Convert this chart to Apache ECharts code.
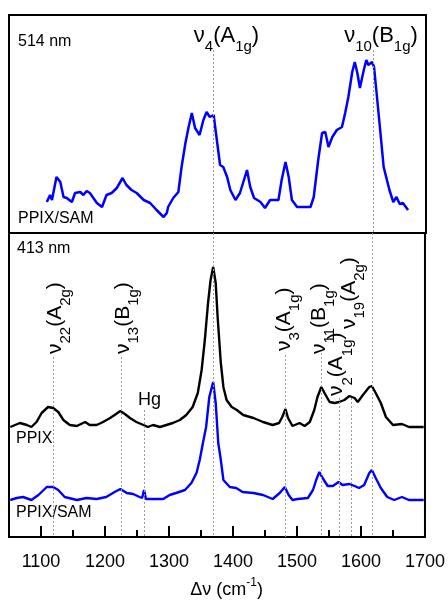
<!DOCTYPE html>
<html>
<head>
<meta charset="utf-8">
<script src="https://cdn.jsdelivr.net/npm/echarts@6/dist/echarts.min.js"></script>
<style>
html, body { margin: 0; padding: 0; background: #fff; }
#chart { width: 448px; height: 601px; }
</style>
</head>
<body>
<div id="chart"></div>
<script>
// 514 nm excitation, PPIX/SAM (top panel)
const shift514 = [1109, 1114, 1117, 1124, 1130, 1135, 1140, 1148, 1153, 1161, 1166, 1171, 1176, 1187, 1195, 1202, 1210, 1218, 1227, 1233,
    1241, 1249, 1260, 1270, 1280, 1291, 1296, 1298, 1306, 1314, 1319, 1325, 1330, 1335, 1340, 1347, 1353, 1358, 1363, 1369,
    1374, 1379, 1384, 1390, 1395, 1403, 1410, 1421, 1426, 1432, 1442, 1449, 1457, 1470, 1475, 1481, 1486, 1491, 1499, 1520,
    1525, 1532, 1538, 1543, 1548, 1554, 1561, 1569, 1574, 1579, 1585, 1589, 1593, 1597, 1603, 1607, 1610, 1616, 1619, 1623,
    1629, 1634, 1643, 1649, 1654, 1659, 1664, 1672];
const sam514 = [31, 38, 33, 56, 51, 36, 35, 31, 40, 41, 38, 42, 40, 30, 26, 38, 40, 45, 55, 48,
    43, 40, 33, 30, 23, 16, 20, 26, 35, 41, 66, 90, 106, 120, 105, 98, 113, 121, 116, 118,
    93, 68, 66, 56, 43, 33, 40, 63, 46, 35, 31, 25, 33, 33, 53, 71, 56, 33, 26, 26,
    36, 73, 100, 101, 86, 96, 103, 106, 120, 136, 161, 171, 160, 145, 163, 173, 168, 171, 166, 140,
    100, 66, 43, 31, 36, 29, 30, 23];

// 413 nm excitation (bottom panel)
const shift413Ppix = [1052, 1067, 1078, 1085, 1093, 1101, 1111, 1119, 1127, 1135, 1145, 1156, 1169, 1176, 1187, 1197, 1208, 1215, 1224, 1231,
    1239, 1249, 1260, 1267, 1275, 1286, 1296, 1306, 1317, 1327, 1337, 1345, 1351, 1356, 1361, 1365, 1369, 1373, 1376, 1381,
    1385, 1390, 1398, 1406, 1416, 1432, 1447, 1462, 1472, 1477, 1482, 1486, 1493, 1504, 1512, 1520, 1527, 1532, 1538, 1543,
    1551, 1559, 1566, 1574, 1582, 1590, 1595, 1603, 1613, 1617, 1623, 1631, 1639, 1650, 1664, 1675, 1698];
const ppix413 = [110, 114, 112, 110, 115, 124, 130, 129, 125, 117, 112, 111, 115, 112, 112, 115, 119, 122, 126, 123,
    119, 115, 112, 110, 112, 110, 112, 114, 117, 122, 130, 144, 167, 197, 234, 257, 270, 254, 220, 174,
    150, 137, 130, 127, 122, 119, 115, 112, 114, 120, 128, 119, 111, 114, 111, 115, 127, 140, 150, 144,
    135, 134, 135, 137, 141, 139, 135, 142, 150, 151, 144, 134, 120, 112, 113, 110, 110];

const shift413Sam = [1052, 1062, 1072, 1085, 1096, 1109, 1119, 1127, 1137, 1156, 1171, 1187, 1202, 1215, 1224, 1234, 1244, 1254, 1258, 1261,
    1264, 1275, 1291, 1301, 1311, 1325, 1335, 1343, 1348, 1353, 1358, 1363, 1369, 1373, 1377, 1381, 1385, 1395, 1405, 1415,
    1432, 1447, 1462, 1473, 1481, 1487, 1493, 1501, 1517, 1525, 1530, 1535, 1540, 1548, 1556, 1565, 1571, 1582, 1590, 1597,
    1605, 1613, 1617, 1623, 1631, 1641, 1652, 1664, 1675, 1698];
const sam413 = [37, 39, 40, 37, 42, 50, 50, 47, 40, 37, 39, 38, 40, 45, 48, 44, 43, 40, 39, 47,
    38, 38, 38, 42, 44, 47, 54, 64, 77, 94, 110, 140, 155, 134, 94, 77, 57, 50, 49, 45,
    44, 42, 38, 44, 50, 42, 37, 38, 39, 47, 57, 65, 59, 51, 51, 55, 52, 53, 51, 49,
    52, 64, 67, 59, 49, 40, 37, 40, 37, 37];

const xTicks = [1100, 1200, 1300, 1400, 1500, 1600, 1700];
const xMinorTicks = [1050, 1150, 1250, 1350, 1450, 1550, 1650];

// assigned modes (cm-1); label parts alternate normal / subscript
const modeKeys = ["v22", "v13", "hg", "v4", "v3", "v11", "v2", "v19", "v10"];
const modeShifts = [1119, 1225, 1261, 1369, 1482, 1538, 1566, 1585, 1617];
const modeLabels = [
    ["ν", "22", "(A", "2g", ")"],
    ["ν", "13", "(B", "1g", ")"],
    ["Hg"],
    ["ν", "4", "(A", "1g", ")"],
    ["ν", "3", "(A", "1g", ")"],
    ["ν", "11", "(B", "1g", ")"],
    ["ν", "2", "(A", "1g", ")"],
    ["ν", "19", "(A", "2g", ")"],
    ["ν", "10", "(B", "1g", ")"]
];

const FONT = "'Liberation Sans', Arial, sans-serif";
const TOP_MAX = 218;
const BOTTOM_MAX = 304;

const zip = (xs, ys) => xs.map((x, i) => [x, ys[i]]);

// where each dotted guide starts (bottom panel units) and how its label sits
const guideLayout = {
    v22: { from: 180, rotated: true, dx: 1.7, bottom: 354 },
    v13: { from: 180, rotated: true, dx: 2.3, bottom: 354 },
    hg: { from: 127, dx: -6, top: 400 },
    v4: { from: BOTTOM_MAX, topFrom: 183, top: 36 },
    v3: { from: 182, rotated: true, dx: -1.7, bottom: 351 },
    v11: { from: 184, rotated: true, dx: -2.2, bottom: 354 },
    v2: { from: 139, rotated: true, dx: -2.7, bottom: 396 },
    v19: { from: 139, rotated: true, dx: -2.2, bottom: 329 },
    v10: { from: BOTTOM_MAX, topFrom: 183, top: 36 }
};

const dotted = { type: [2, 2], color: "#9a9a9a", width: 1 };

const bottomGuides = modeKeys.map((key, i) => [
    { coord: [modeShifts[i], guideLayout[key].from] },
    { coord: [modeShifts[i], 0] }
]);
const topGuides = modeKeys
    .map((key, i) => ({ key, x: modeShifts[i] }))
    .filter((m) => guideLayout[m.key].topFrom !== undefined)
    .map((m) => [{ coord: [m.x, guideLayout[m.key].topFrom] }, { coord: [m.x, 0] }]);

const measure = document.createElement("canvas").getContext("2d");
const textWidth = (text, size) => {
    measure.font = `${size}px ${FONT}`;
    return measure.measureText(text).width;
};

// a label built from pieces; local y = 0 is the middle of the normal text
const buildLabel = (parts, main, sub, drop) => {
    let cursor = 0;
    const children = parts.map((text, i) => {
        const isSub = i % 2 === 1;
        const size = isSub ? sub : main;
        const el = {
            type: "text", x: cursor, y: isSub ? drop : 0, silent: true,
            style: { text: text, fontSize: size, fontFamily: FONT, fill: "#000", align: "left", verticalAlign: "middle" }
        };
        cursor += textWidth(text, size);
        return el;
    });
    const headWidth = parts.length > 2 ? textWidth(parts[0], main) + textWidth(parts[1], sub) : 0;
    return { children, headWidth };
};

const chart = echarts.init(document.getElementById("chart"), null, { renderer: "canvas" });

const hiddenY = (grid, max) => ({
    type: "value", gridIndex: grid, min: 0, max: max, show: false
});

chart.setOption({
    animation: false,
    backgroundColor: "#fff",
    textStyle: { fontFamily: FONT },
    grid: [
        { left: 9, right: 22, top: 15, height: 218, show: true, borderColor: "#000", borderWidth: 2, backgroundColor: "transparent" },
        { left: 9, right: 22, top: 233, height: 304, show: true, borderColor: "#000", borderWidth: 2, backgroundColor: "transparent" }
    ],
    xAxis: [
        {
            type: "value", gridIndex: 0, min: 1050, max: 1700,
            axisLine: { show: false }, axisTick: { show: false }, axisLabel: { show: false }, splitLine: { show: false }
        },
        {
            type: "value", gridIndex: 1, min: 1050, max: 1700, position: "bottom",
            axisLine: { show: true, lineStyle: { color: "#000", width: 2 } },
            axisTick: { show: true, inside: true, length: 11, customValues: xTicks, lineStyle: { color: "#000", width: 2 } },
            axisLabel: {
                show: true, customValues: xTicks, fontSize: 18, color: "#000", margin: 16, fontFamily: FONT,
                formatter: (v) => String(v)
            },
            splitLine: { show: false }
        },
        {
            type: "value", gridIndex: 1, min: 1050, max: 1700, position: "bottom",
            axisLine: { show: false },
            axisTick: { show: true, inside: true, length: 7, customValues: xMinorTicks, lineStyle: { color: "#000", width: 2 } },
            axisLabel: { show: false },
            splitLine: { show: false }
        }
    ],
    yAxis: [hiddenY(0, TOP_MAX), hiddenY(1, BOTTOM_MAX)],
    series: [
        {
            name: "PPIX/SAM 514", type: "line", xAxisIndex: 0, yAxisIndex: 0,
            data: zip(shift514, sam514), showSymbol: false, silent: true,
            lineStyle: { color: "#0000ff", width: 2.5 },
            markLine: { silent: true, symbol: "none", label: { show: false }, lineStyle: dotted, data: topGuides }
        },
        {
            name: "PPIX 413", type: "line", xAxisIndex: 1, yAxisIndex: 1,
            data: zip(shift413Ppix, ppix413), showSymbol: false, silent: true, z: 3,
            lineStyle: { color: "#000", width: 2.4 },
            markLine: { silent: true, symbol: "none", label: { show: false }, lineStyle: dotted, data: bottomGuides }
        },
        {
            name: "PPIX/SAM 413", type: "line", xAxisIndex: 1, yAxisIndex: 1,
            data: zip(shift413Sam, sam413), showSymbol: false, silent: true, z: 3,
            lineStyle: { color: "#0000ff", width: 2.4 }
        }
    ]
});

const plainText = (text, x, y, size) => ({
    type: "text", x: x, y: y, silent: true,
    style: { text: text, fontSize: size || 16, fontFamily: FONT, fill: "#000", align: "left", verticalAlign: "middle" }
});

const graphics = [
    plainText("514 nm", 18, 42),
    plainText("PPIX/SAM", 18, 219),
    plainText("413 nm", 17, 249),
    plainText("PPIX", 16, 439),
    plainText("PPIX/SAM", 16, 513)
];

modeKeys.forEach((key, i) => {
    const layout = guideLayout[key];
    const px = chart.convertToPixel({ xAxisIndex: 1, yAxisIndex: 1 }, [modeShifts[i], 0])[0];
    if (key === "hg") {
        graphics.push(plainText(modeLabels[i][0], px + layout.dx, layout.top, 18));
    } else if (layout.rotated) {
        const label = buildLabel(modeLabels[i], 21, 15, 11);
        graphics.push({
            type: "group", x: px + layout.dx, y: layout.bottom, rotation: Math.PI / 2, silent: true,
            children: label.children
        });
    } else {
        const label = buildLabel(modeLabels[i], 22, 15, 11);
        graphics.push({
            type: "group", x: px + 2 - label.headWidth - 2, y: layout.top, silent: true,
            children: label.children
        });
    }
});

// axis title with superscript
const titleParts = buildLabel(["Δν (cm", "-1", ")"], 18, 12, -7);
const titleWidth = textWidth("Δν (cm", 18) + textWidth("-1", 12) + textWidth(")", 18);
const titleCenter = chart.convertToPixel({ xAxisIndex: 1, yAxisIndex: 1 }, [1390, 0])[0];
graphics.push({ type: "group", x: titleCenter - titleWidth / 2, y: 590, silent: true, children: titleParts.children });

chart.setOption({ graphic: graphics });
</script>
</body>
</html>
